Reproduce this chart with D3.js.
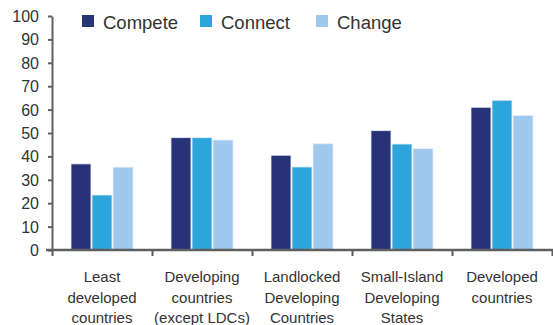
<!DOCTYPE html>
<html>
<head>
<meta charset="utf-8">
<script src="https://cdn.jsdelivr.net/npm/d3@7"></script>
<style>
  html, body { margin: 0; padding: 0; background: #fff; }
  svg { display: block; font-family: "Liberation Sans", Arial, Helvetica, sans-serif; }
</style>
</head>
<body>
<svg id="chart" width="553" height="325"></svg>
<script>
// Country groups, each label split into its display lines
const categories = [
  "Least developed countries",
  "Developing countries (except LDCs)",
  "Landlocked Developing Countries",
  "Small-Island Developing States",
  "Developed countries"
];
const categoryLines = [
  ["Least", "developed", "countries"],
  ["Developing", "countries", "(except LDCs)"],
  ["Landlocked", "Developing", "Countries"],
  ["Small-Island", "Developing", "States"],
  ["Developed", "countries"]
];
const seriesNames = ["Compete", "Connect", "Change"];
const compete = [36.8, 48, 40.5, 51, 61];
const connect = [23.5, 48, 35.5, 45.3, 64];
const change  = [35.4, 47, 45.4, 43.3, 57.5];
const yTicks = [0, 10, 20, 30, 40, 50, 60, 70, 80, 90, 100];

const colors = { Compete: "#283377", Connect: "#2ea4dc", Change: "#9ec8ee" };
const values = { Compete: compete, Connect: connect, Change: change };

const svg = d3.select("#chart");
const plotLeft = 52, plotRight = 552, plotTop = 16, plotBottom = 250;
const axisColor = "#5f5f5f";
const textColor = "#333";

const x0 = d3.scaleBand().domain(categories).range([plotLeft, plotRight]).paddingInner(0).paddingOuter(0);
const bw = x0.bandwidth();
const x1 = d3.scaleBand().domain(seriesNames).range([bw * 0.19, bw * 0.81]).paddingInner(0.05);
const y = d3.scaleLinear().domain([0, 100]).range([plotBottom, plotTop]);

// Bars
const groups = svg.append("g").selectAll("g")
  .data(categories)
  .join("g")
  .attr("transform", d => `translate(${x0(d)},0)`);

groups.selectAll("rect")
  .data((d, i) => seriesNames.map(s => ({ s, v: values[s][i] })))
  .join("rect")
  .attr("x", d => x1(d.s))
  .attr("width", x1.bandwidth())
  .attr("y", d => y(d.v))
  .attr("height", d => y(0) - y(d.v))
  .attr("fill", d => colors[d.s])
  .attr("stroke", "#e6eef8")
  .attr("stroke-width", 0.8);

// Y axis
const yAxis = svg.append("g")
  .attr("transform", `translate(${plotLeft},0)`)
  .call(d3.axisLeft(y).tickValues(yTicks).tickSize(4).tickPadding(9).tickSizeOuter(0));
yAxis.select(".domain").attr("stroke", axisColor).attr("stroke-width", 2);
yAxis.selectAll(".tick line").attr("stroke", axisColor).attr("stroke-width", 2);
yAxis.selectAll(".tick text")
  .attr("fill", textColor)
  .style("font-size", "16px")
  .attr("dy", "0.34em");

// X axis with ticks at group boundaries
const xb = d3.scaleLinear().domain([0, categories.length]).range([plotLeft, plotRight]);
const xAxis = svg.append("g")
  .attr("transform", `translate(0,${plotBottom})`)
  .call(d3.axisBottom(xb).ticks(categories.length).tickSize(6).tickFormat("").tickSizeOuter(0));
xAxis.select(".domain").attr("stroke", axisColor).attr("stroke-width", 2.4)
  .attr("d", `M${plotLeft - 6},0H${plotRight + 1}`);
xAxis.selectAll(".tick line").attr("stroke", axisColor).attr("stroke-width", 2);

// Category labels
const labels = svg.append("g")
  .selectAll("text")
  .data(categories)
  .join("text")
  .attr("text-anchor", "middle")
  .attr("fill", textColor)
  .style("font-size", "15px")
  .attr("x", d => x0(d) + bw / 2)
  .attr("y", 282);
labels.selectAll("tspan")
  .data((d, i) => categoryLines[i])
  .join("tspan")
  .attr("x", function () { return this.parentNode.getAttribute("x"); })
  .attr("dy", (d, i) => i === 0 ? 0 : 20.7)
  .text(d => d);

// Legend
const legendX = [82, 200, 316];
const legend = svg.append("g").selectAll("g")
  .data(seriesNames)
  .join("g")
  .attr("transform", (d, i) => `translate(${legendX[i]},15)`);
legend.append("rect")
  .attr("width", 12).attr("height", 12)
  .attr("fill", d => colors[d]);
legend.append("text")
  .attr("x", 21).attr("y", 14)
  .attr("fill", textColor)
  .style("font-size", "18.5px")
  .text(d => d);
</script>
</body>
</html>
